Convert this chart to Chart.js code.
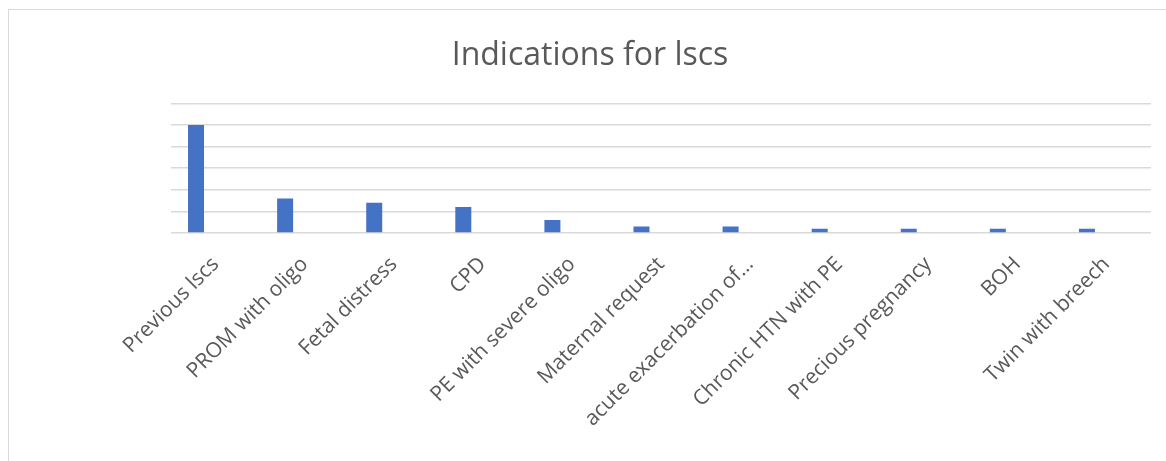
<!DOCTYPE html>
<html lang="en">
<head>
  <meta charset="UTF-8" />
  <title>Indications for lscs</title>
  <script src="https://cdn.jsdelivr.net/npm/chart.js"></script>
  <style>
    html, body { margin: 0; padding: 0; background: #fff; overflow: hidden; }
    .chart-box {
      position: absolute;
      left: 8px;
      top: 9px;
      width: 1200px;
      height: 500px;
      border: 1px solid #d9d9d9;
    }
    canvas { display: block; }
  </style>
</head>
<body>
  <div class="chart-box">
    <canvas id="lscsChart" width="1157" height="451"></canvas>
  </div>

<script>
// data
const indications = [
  'Previous lscs', 'PROM with oligo', 'Fetal distress', 'CPD',
  'PE with severe oligo', 'Maternal request', 'acute exacerbation of…',
  'Chronic HTN with PE', 'Precious pregnancy', 'BOH', 'Twin with breech'
];
const cases = [50, 16, 14, 12, 6, 3, 3, 2, 2, 2, 2];
// the other two series of the sheet are empty, they only take up room in each group
const series2 = [];
const series3 = [];
const yTicks = [0, 10, 20, 30, 40, 50, 60];

const grey = '#595959';

const config = {
  type: 'bar',
  data: {
    labels: indications,
    datasets: [
      { label: 'Cases', data: cases, backgroundColor: '#4472C4' },
      { label: 'Series 2', data: series2, backgroundColor: '#ED7D31' },
      { label: 'Series 3', data: series3, backgroundColor: '#A5A5A5' }
    ]
  },
  options: {
    responsive: false,
    animation: false,
    categoryPercentage: 0.657,
    barPercentage: 0.82,
    layout: { padding: { left: 20, right: 15, top: 0, bottom: 0 } },
    plugins: {
      legend: { display: false },
      tooltip: { enabled: false },
      title: {
        display: true,
        text: 'Indications for lscs',
        color: grey,
        font: { family: 'Open Sans', size: 32, weight: 'normal' },
        padding: { top: 27, bottom: 28 }
      }
    },
    scales: {
      x: {
        grid: { display: false, drawTicks: false },
        border: { display: false },
        ticks: {
          color: grey,
          font: { family: 'Open Sans', size: 21 },
          minRotation: 45,
          maxRotation: 45,
          autoSkip: false,
          padding: 19
        },
        afterFit: axis => { axis.height = 228; }
      },
      y: {
        min: yTicks[0],
        max: yTicks[yTicks.length - 1],
        ticks: { display: false, stepSize: yTicks[1] - yTicks[0] },
        grid: { color: '#d9d9d9', lineWidth: 1.5, drawTicks: false },
        border: { display: false },
        afterFit: axis => { axis.width = 142; }
      }
    }
  }
};

new Chart(document.getElementById('lscsChart').getContext('2d'), config);
</script>
</body>
</html>
